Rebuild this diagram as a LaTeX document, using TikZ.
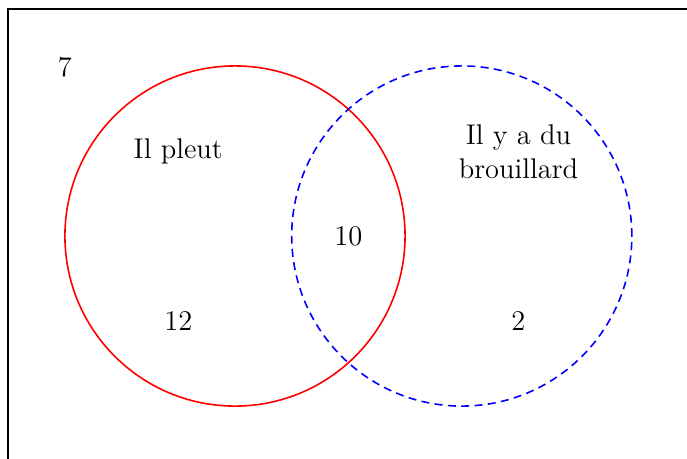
\documentclass[tikz,border=0pt]{standalone}
\begin{document}
\begin{tikzpicture}
\tikzset{
  setA/.style={draw=red, thick},
  setB/.style={draw=blue, thick, dash pattern=on 4pt off 2.7pt},
  lbl/.style={align=center, font=\fontsize{14.3pt}{17.2pt}\selectfont}
}
\useasboundingbox (-4.145,-3.916) rectangle (7.973,4.163);
\clip (-4.145,-3.916) rectangle (7.973,4.163);
\draw[thick] (-4,-4) rectangle (8,4);
\draw[setA] (0,0) circle (3);
\draw[setB] (4,0) circle (3);
\node[lbl] (u) at (-3,2.97) {7};
\node[lbl] (a) at (-1,1.5) {Il pleut};
\node[lbl] (b) at (5,1.48) {Il y a du\\brouillard};
\node[lbl] (ab) at (2,0) {10};
\node[lbl] (na) at (-1,-1.5) {12};
\node[lbl] (nb) at (5,-1.5) {2};
\end{tikzpicture}
\end{document}
